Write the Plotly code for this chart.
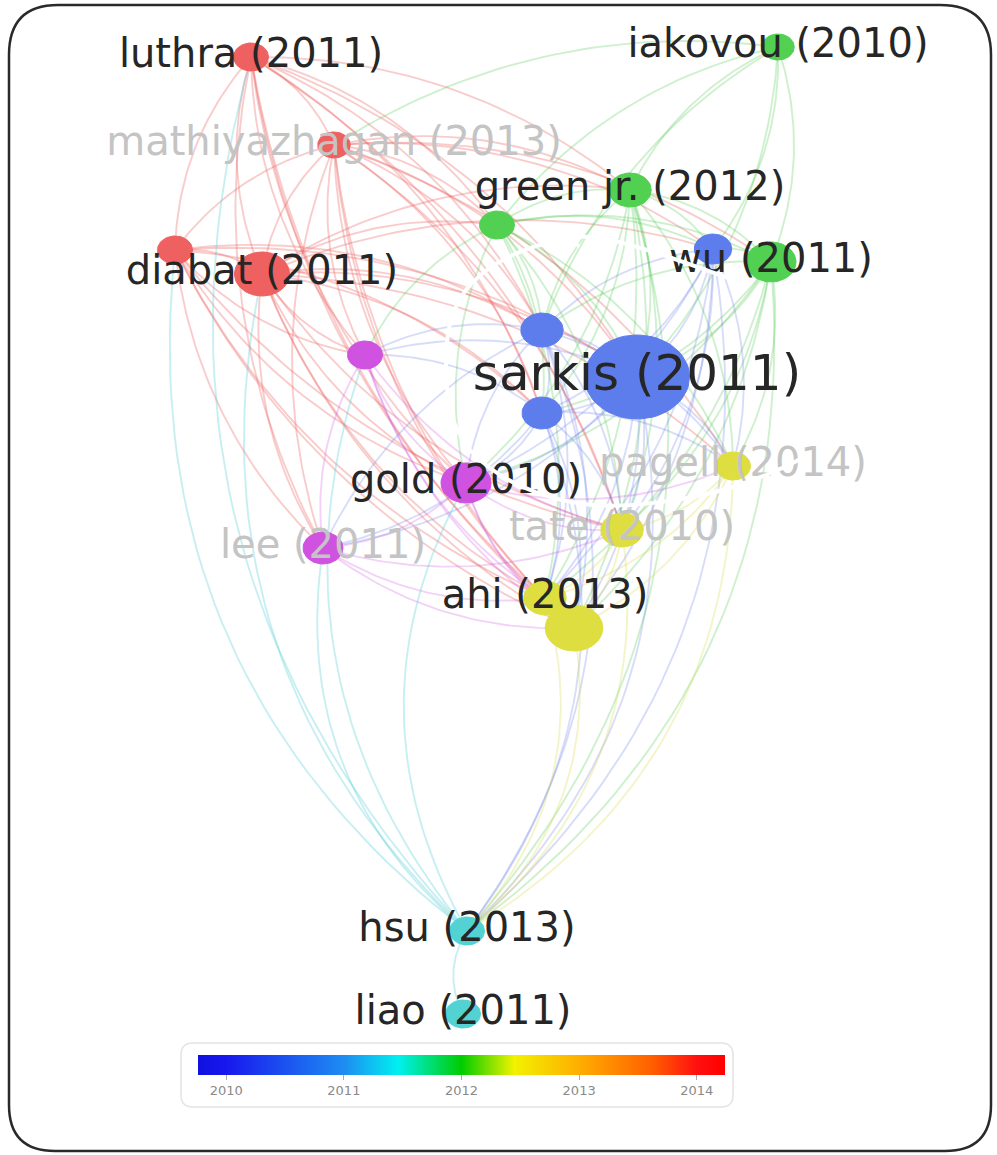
import numpy as np
import plotly.graph_objects as go

# ---------------- data ----------------
labels = ["luthra (2011)", "mathiyazhagan (2013)", "", "diabat (2011)", "",
          "green jr. (2012)", "iakovou (2010)", "wu (2011)", "", "",
          "sarkis (2011)", "", "", "gold (2010)", "lee (2011)",
          "pagell (2014)", "tate (2010)", "ahi (2013)", "", "hsu (2013)", "liao (2011)"]
map_x = [251, 334, 175, 262, 497, 630, 778, 771, 713, 542, 637, 542, 365, 466, 323,
         733, 622, 545, 574, 467, 463]
map_y = [57, 145, 250, 274, 225, 190, 47, 262, 249, 330, 377, 413, 355, 483, 548,
         466, 530, 598, 628, 931, 1014]
weight = [14, 13, 14, 22, 14, 17, 13, 20, 15, 17, 42, 16, 14, 20, 16, 14, 17, 17, 23, 14, 14]
cluster = [1, 1, 1, 1, 2, 2, 2, 2, 3, 3, 3, 3, 4, 4, 4, 5, 5, 5, 5, 6, 6]
faded = [0, 1, 0, 0, 0, 0, 0, 0, 0, 0, 0, 0, 0, 0, 1, 1, 1, 0, 0, 0, 0]

links = [
    (0, 1), (0, 2), (0, 3), (1, 2), (1, 3), (2, 3),
    (0, 4), (0, 5), (0, 9), (0, 10), (0, 11), (0, 12), (0, 13), (0, 14), (0, 16), (0, 17), (0, 18),
    (1, 4), (1, 5), (1, 7), (1, 8), (1, 9), (1, 10), (1, 11), (1, 12), (1, 13), (1, 14), (1, 15),
    (1, 16), (1, 17), (1, 18),
    (2, 9), (2, 10), (2, 11), (2, 12), (2, 13), (2, 14), (2, 16), (2, 17), (2, 18),
    (3, 4), (3, 5), (3, 8), (3, 9), (3, 10), (3, 11), (3, 12), (3, 13), (3, 14), (3, 15), (3, 16),
    (3, 17), (3, 18),
    (4, 5), (4, 6), (4, 7), (4, 8), (4, 9), (4, 10), (4, 11), (4, 12), (4, 13), (4, 15), (4, 16), (4, 17),
    (5, 6), (5, 7), (5, 8), (5, 9), (5, 10), (5, 11), (5, 13), (5, 15), (5, 16), (5, 17), (5, 18),
    (6, 7), (6, 8), (6, 9), (6, 10), (6, 1),
    (7, 8), (7, 9), (7, 10), (7, 11), (7, 13), (7, 15), (7, 16), (7, 17), (7, 18),
    (8, 9), (8, 10), (8, 11), (8, 13), (8, 15), (8, 16), (8, 17), (8, 18),
    (9, 10), (9, 11), (9, 12), (9, 13), (9, 14), (9, 15), (9, 16), (9, 17), (9, 18),
    (10, 11), (10, 12), (10, 13), (10, 14), (10, 15), (10, 16), (10, 17), (10, 18),
    (11, 12), (11, 13), (11, 14), (11, 15), (11, 16), (11, 17), (11, 18),
    (12, 13), (12, 14), (12, 16), (12, 17), (12, 18),
    (13, 14), (13, 15), (13, 16), (13, 17), (13, 18),
    (14, 16), (14, 17), (14, 18),
    (15, 16), (15, 17), (15, 18), (16, 17), (16, 18), (17, 18),
    (19, 0), (19, 2), (19, 3), (19, 12), (19, 13), (19, 14),
    (9, 19), (10, 19), (11, 19), (8, 19), (7, 19), (5, 19), (17, 19), (18, 19), (16, 19), (15, 19),
    (19, 20),
]

years_ticks = [2010, 2011, 2012, 2013, 2014]
year_min, year_max = 2009.76, 2014.24

# ---------------- styles ----------------
cluster_fill = {1: "#ef6060", 2: "#52d052", 3: "#5d7dec", 4: "#d052e0", 5: "#dede40", 6: "#52d2d2"}
cluster_edge = {1: "rgba(236,100,100,0.33)", 2: "rgba(80,200,80,0.28)", 3: "rgba(100,125,230,0.26)",
                4: "rgba(205,80,225,0.26)", 5: "rgba(215,215,60,0.28)", 6: "rgba(80,205,215,0.32)"}
stretch = 1.25
center = (500.0, 420.0)

fig = go.Figure()

# edges (curved, grouped by colour)
def bezier(a, b, n=40):
    k = 0.28 if (a >= 19 or b >= 19) else 0.18
    x0, y0, x1, y1 = map_x[a], map_y[a], map_x[b], map_y[b]
    mx, my = (x0 + x1) / 2, (y0 + y1) / 2
    dx, dy = x1 - x0, y1 - y0
    L = float(np.hypot(dx, dy))
    px, py = -dy / L, dx / L
    if (mx + px - center[0]) ** 2 + (my + py - center[1]) ** 2 < (mx - center[0]) ** 2 + (my - center[1]) ** 2:
        px, py = -px, -py
    qx, qy = mx + px * k * L, my + py * k * L
    t = np.linspace(0, 1, n)
    bx = (1 - t) ** 2 * x0 + 2 * (1 - t) * t * qx + t ** 2 * x1
    by = (1 - t) ** 2 * y0 + 2 * (1 - t) * t * qy + t ** 2 * y1
    return list(bx), list(by)

groups = {}
for a, b in links:
    c = cluster[a]
    bx, by = bezier(a, b)
    gx, gy = groups.setdefault(c, ([], []))
    gx.extend(bx + [None])
    gy.extend(by + [None])
for c, (gx, gy) in groups.items():
    fig.add_trace(go.Scatter(x=gx, y=gy, mode="lines", hoverinfo="skip",
                             line=dict(color=cluster_edge[c], width=1.9)))

# nodes as ellipses (picture is horizontally stretched)
theta = np.linspace(0, 2 * np.pi, 60)
order = sorted(range(len(map_x)), key=lambda i: weight[i])
for i in order:
    ex = list(map_x[i] + stretch * weight[i] * np.cos(theta))
    ey = list(map_y[i] + weight[i] * np.sin(theta))
    fig.add_trace(go.Scatter(x=ex, y=ey, mode="lines", fill="toself", hoverinfo="skip",
                             fillcolor=cluster_fill[cluster[i]],
                             line=dict(color=cluster_fill[cluster[i]], width=1)))

# labels
lab_idx = [i for i in range(len(labels)) if labels[i]]
fig.add_trace(go.Scatter(
    x=[map_x[i] for i in lab_idx], y=[map_y[i] for i in lab_idx],
    text=[labels[i] for i in lab_idx], mode="text", textposition="middle center",
    hoverinfo="skip",
    textfont=dict(family="DejaVu Sans",
                  size=[50 if weight[i] > 30 else 40 for i in lab_idx],
                  color=["#c4c4c4" if faded[i] else "#262626" for i in lab_idx])))

# colour scale legend
colorscale = [[0.0, "#1010e0"], [0.054, "#1818ee"], [0.277, "#1e8cf2"], [0.38, "#00f0f0"],
              [0.5, "#00cc00"], [0.6, "#f2f200"], [0.723, "#ffae00"], [0.86, "#ff6000"],
              [0.946, "#ff1010"], [1.0, "#ff0000"]]
fig.add_trace(go.Scatter(
    x=[-100], y=[-100], mode="markers", hoverinfo="skip",
    marker=dict(color=[year_min], cmin=year_min, cmax=year_max, colorscale=colorscale,
                showscale=True, opacity=0,
                colorbar=dict(orientation="h", x=461.5 / 997, xanchor="center",
                              y=1 - 1055 / 1155, yanchor="top", len=527 / 997, lenmode="fraction",
                              thickness=20, xpad=0, ypad=0, outlinewidth=0,
                              tickvals=years_ticks, ticktext=[str(v) for v in years_ticks],
                              ticks="outside", ticklen=5, tickcolor="#aaaaaa",
                              tickfont=dict(family="DejaVu Sans", size=13, color="#8a8a8a")))))

shapes = [
    dict(type="path", layer="below", xref="x", yref="y",
         path="M 193,1043 L 721,1043 Q 733,1043 733,1055 L 733,1095 Q 733,1107 721,1107 "
              "L 193,1107 Q 181,1107 181,1095 L 181,1055 Q 181,1043 193,1043 Z",
         line=dict(color="#e4e4e4", width=1.5), fillcolor="white"),
    dict(type="path", layer="above", xref="x", yref="y",
         path="M 58,5 L 940,5 Q 991,5 991,55 L 991,1105 Q 991,1151 945,1151 "
              "L 55,1151 Q 9,1151 9,1105 L 9,55 Q 9,5 58,5 Z",
         line=dict(color="#2a2a2a", width=2.5)),
    dict(type="path", layer="above", xref="x", yref="y",
         path="M 745,284 C 700,268 640,245 600,238 C 585,236 570,236 563,239 C 572,240 580,244 577,247 "
              "M 563,239 C 530,246 495,258 470,285 C 452,305 446,330 446,360 C 446,400 450,425 470,450 "
              "C 495,478 540,500 592,505 C 630,508 690,500 730,488 C 760,478 785,468 802,458",
         line=dict(color="white", width=4)),
]

fig.update_layout(
    width=997, height=1155, margin=dict(l=0, r=0, t=0, b=0),
    paper_bgcolor="white", plot_bgcolor="white", showlegend=False,
    xaxis=dict(range=[0, 997], visible=False, fixedrange=True),
    yaxis=dict(range=[1155, 0], visible=False, fixedrange=True),
    shapes=shapes,
)

fig.write_html("out.html", config={"displayModeBar": False},
               post_script="document.body.style.margin='0px';")
